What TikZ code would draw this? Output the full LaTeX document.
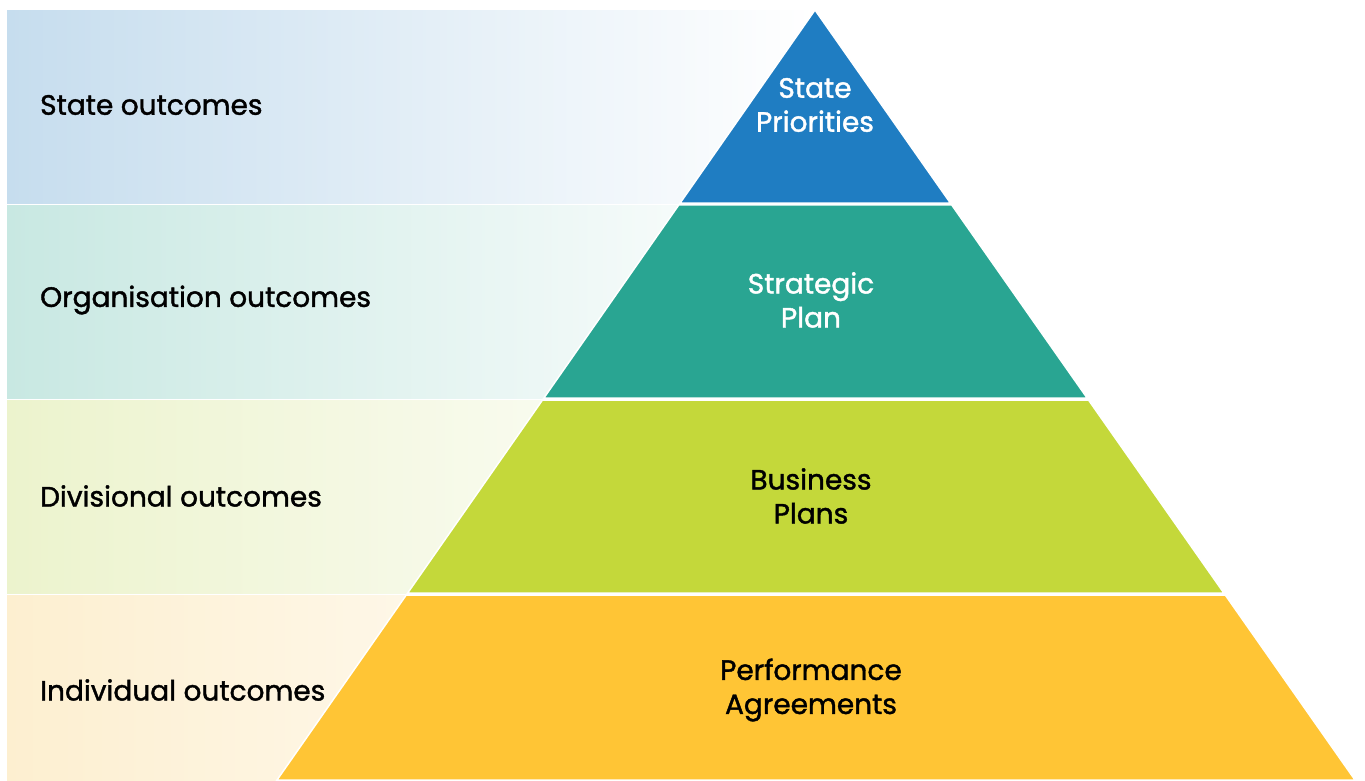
\documentclass[tikz,border=0pt]{standalone}
\usepackage{fontspec}
\setmainfont{Poppins}[FakeBold=1.4]
\usetikzlibrary{calc}
\definecolor{bandA}{RGB}{198,221,238}
\definecolor{bandB}{RGB}{200,232,226}
\definecolor{bandC}{RGB}{236,243,205}
\definecolor{bandD}{RGB}{253,239,208}
\definecolor{pyrA}{RGB}{31,125,194}
\definecolor{pyrB}{RGB}{41,165,146}
\definecolor{pyrC}{RGB}{196,216,58}
\definecolor{pyrD}{RGB}{255,197,53}
\tikzset{
  band/.style={left color=#1, right color=white, draw=none},
  tier/.style={fill=#1, draw=white, line width=1.5pt, line join=miter},
  sidelabel/.style={anchor=west, font=\fontsize{28}{34}\selectfont, text=black, inner sep=0pt},
  tierlabel/.style={align=center, font=\fontsize{28}{34}\selectfont, inner sep=0pt},
}
\begin{document}
\begin{tikzpicture}[x=1pt,y=-1pt]
\useasboundingbox[fill=white] (0,0) rectangle (1365,780);
% apex and base corners of the pyramid
\coordinate (A) at (815,10);
\coordinate (L) at (277,780);
\coordinate (R) at (1355,780);
% faded bands behind the pyramid
\shade[band=bandA] (7,10) rectangle (815,203);
\shade[band=bandB] (7,205) rectangle (815,398);
\shade[band=bandC] (7,400) rectangle (815,593);
\shade[band=bandD] (7,595) rectangle (815,780);
% pyramid tiers
\filldraw[tier=pyrA] (A) -- ($(A)!{193/770}!(R)$) -- ($(A)!{193/770}!(L)$) -- cycle;
\filldraw[tier=pyrB] ($(A)!{195/770}!(L)$) -- ($(A)!{195/770}!(R)$) -- ($(A)!{388/770}!(R)$) -- ($(A)!{388/770}!(L)$) -- cycle;
\filldraw[tier=pyrC] ($(A)!{390/770}!(L)$) -- ($(A)!{390/770}!(R)$) -- ($(A)!{583/770}!(R)$) -- ($(A)!{583/770}!(L)$) -- cycle;
\filldraw[tier=pyrD] ($(A)!{585/770}!(L)$) -- ($(A)!{585/770}!(R)$) -- (R) -- (L) -- cycle;
% side labels
\node[sidelabel] (s1) at (40,105) {State outcomes};
\node[sidelabel] (s2) at (40,300) {Organisation outcomes};
\node[sidelabel] (s3) at (40,496) {Divisional outcomes};
\node[sidelabel] (s4) at (40,690) {Individual outcomes};
% tier labels
\node[tierlabel, text=white] (t1) at (815,105) {State\\Priorities};
\node[tierlabel, text=white] (t2) at (811,300) {Strategic\\Plan};
\node[tierlabel, text=black] (t3) at (811,496) {Business\\Plans};
\node[tierlabel, text=black] (t4) at (811,690) {Performance\\Agreements};
\end{tikzpicture}
\end{document}
